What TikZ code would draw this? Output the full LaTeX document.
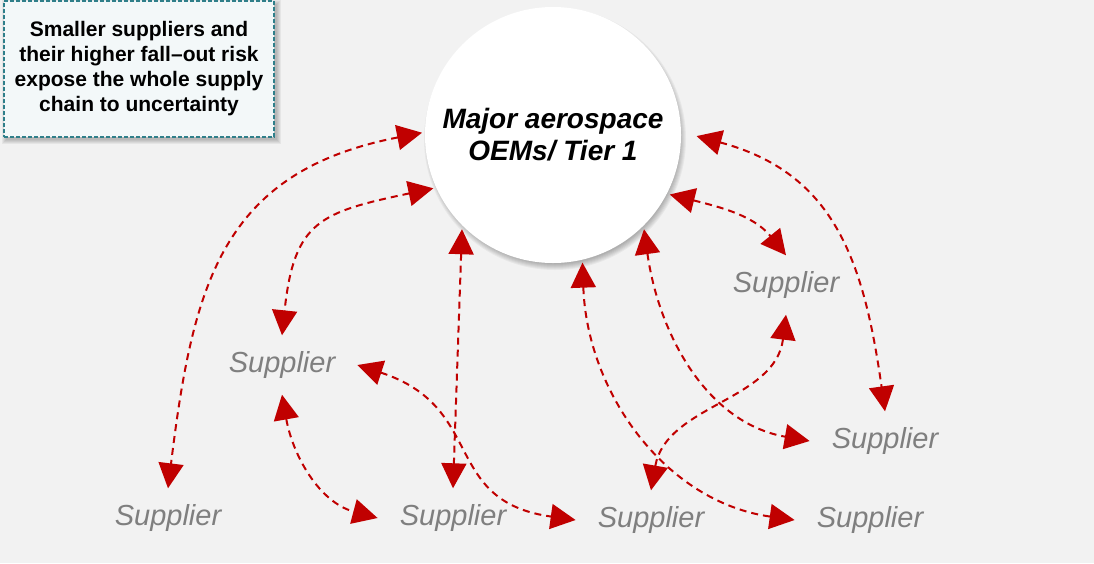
\documentclass[tikz,border=0pt]{standalone}
\usepackage{fontspec}
\setmainfont{Liberation Sans}
\usetikzlibrary{arrows.meta}
\definecolor{bggray}{HTML}{F2F2F2}
\definecolor{linkred}{HTML}{C00000}
\definecolor{suppgray}{HTML}{7F7F7F}
\definecolor{notefill}{HTML}{F3F8F9}
\definecolor{noteedge}{HTML}{2F7F8A}

\begin{document}
\begin{tikzpicture}[x=1pt,y=1pt,
	link/.style={linkred,line width=2pt,dash pattern=on 7pt off 5pt,
		{Triangle[length=25pt,width=25pt]}-{Triangle[length=25pt,width=25pt]}},
	supplier/.style={text=suppgray,inner xsep=22pt,inner ysep=16pt,
		font=\fontsize{29}{34}\selectfont\itshape},
	hub/.style={circle,fill=white,minimum size=256pt,inner sep=0pt,outer sep=3pt,
		align=center,font=\fontsize{28}{32}\selectfont\bfseries\itshape},
	notebox/.style={draw=noteedge,fill=notefill,line width=1.5pt,dash pattern=on 4pt off 2pt,
		minimum width=270pt,minimum height=136pt,align=center,
		font=\fontsize{21}{25}\selectfont\bfseries}]
	\useasboundingbox (0,0) rectangle (1094,-563);
	\fill[bggray] (0,0) rectangle (1094,-563);

	% soft shadows
	\foreach \k in {0,...,4}
		\fill[black,opacity=.05] (6-\k,-4+\k) rectangle (277+\k,-140-\k);
	\coordinate (hubc) at (553,-135);
	\foreach \k in {0,...,6}
		\fill[black,opacity=.045] ([shift={(2,-4)}]hubc) circle (125+\k);

	\node[notebox] (note) at (139,-69) {Smaller suppliers and\\their higher fall–out risk\\expose the whole supply\\chain to uncertainty};
	\node[hub] (oem) at (hubc) {Major aerospace\\OEMs/ Tier 1};

	\node[supplier] (s1) at (168,-518) {Supplier};
	\node[supplier] (s2) at (282,-365) {Supplier};
	\node[supplier] (s3) at (453,-518) {Supplier};
	\node[supplier] (s4) at (651,-520) {Supplier};
	\node[supplier] (s5) at (870,-520) {Supplier};
	\node[supplier] (s6) at (885,-441) {Supplier};
	\node[supplier] (s7) at (786,-285) {Supplier};

	\draw[link,looseness=1.2] (oem.179) to[out=191,in=83] (s1.north);
	\draw[link,looseness=1.4] (oem.204) to[out=192,in=84] (s2.north);
	\draw[link] (oem.226) to[out=268,in=88] (s3.north);
	\draw[link] (oem.283) to[out=272,in=172] (s5.west);
	\draw[link] (oem.314) to[out=278,in=170] (s6.west);
	\draw[link] (oem.333) to[out=346,in=129] (s7.north);
	\draw[link,looseness=1.15,shorten <=13pt] (oem.1) to[out=345,in=98] (s6.north);
	\draw[link] (s2.south) to[out=280,in=165] (s3.west);
	\draw[link,looseness=1.3] (s2.east) to[out=342,in=172] (s4.west);
	\draw[link] (s7.south) to[out=263,in=80] (s4.north);
\end{tikzpicture}
\end{document}
